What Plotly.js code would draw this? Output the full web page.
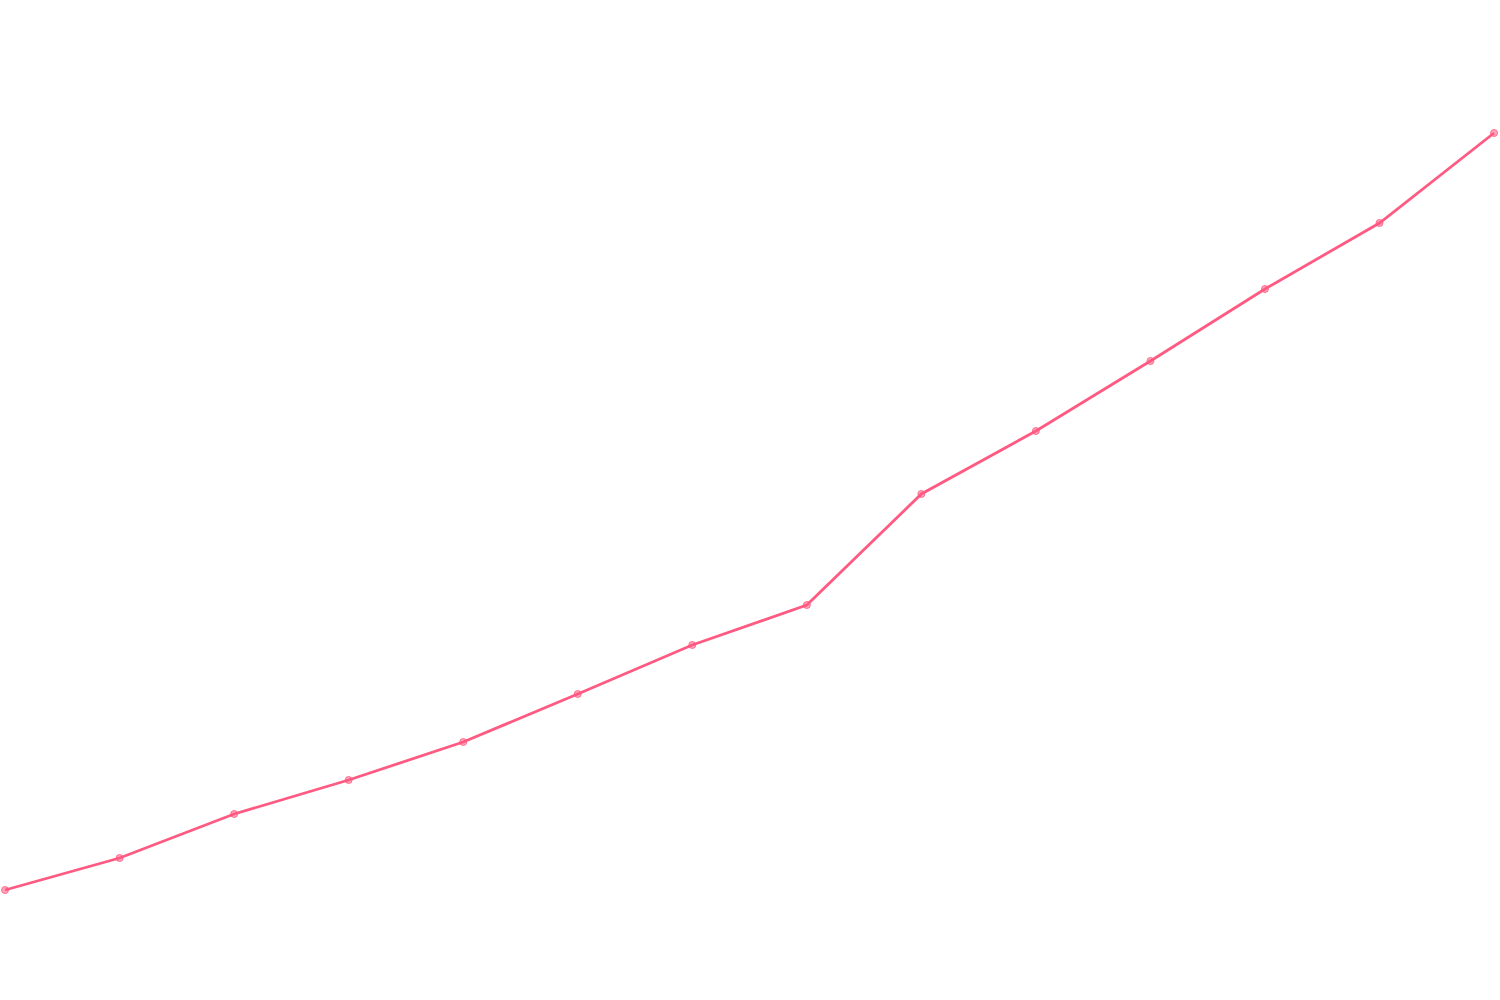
<!DOCTYPE html>
<html>
<head>
<meta charset="utf-8">
<script src="https://cdn.plot.ly/plotly-3.0.1.min.js"></script>
<style>
  html, body { margin: 0; padding: 0; background: #fff; }
  #chart { width: 1500px; height: 1000px; }
</style>
</head>
<body>
<div id="chart"></div>
<script>
var steps = [0, 1, 2, 3, 4, 5, 6, 7, 8, 9, 10, 11, 12, 13];
var values = [11.0, 14.2, 18.6, 22.0, 25.8, 30.6, 35.5, 39.5, 50.6, 56.9, 63.9, 71.1, 77.7, 86.7];

var trace = {
  x: steps,
  y: values,
  type: 'scatter',
  mode: 'lines+markers',
  line: { color: '#ff5a82', width: 2.8 },
  marker: {
    color: 'rgba(255,90,130,0.55)',
    size: 7,
    line: { color: 'rgba(255,90,130,0.8)', width: 1 }
  },
  hoverinfo: 'skip'
};

var layout = {
  width: 1500,
  height: 1000,
  margin: { t: 0, b: 0, l: 0, r: 0 },
  paper_bgcolor: '#fff',
  plot_bgcolor: '#fff',
  showlegend: false,
  xaxis: { range: [-0.044, 13.052], visible: false, fixedrange: true },
  yaxis: { range: [0, 100], visible: false, fixedrange: true }
};

Plotly.newPlot('chart', [trace], layout, { displayModeBar: false, staticPlot: true });
</script>
</body>
</html>
